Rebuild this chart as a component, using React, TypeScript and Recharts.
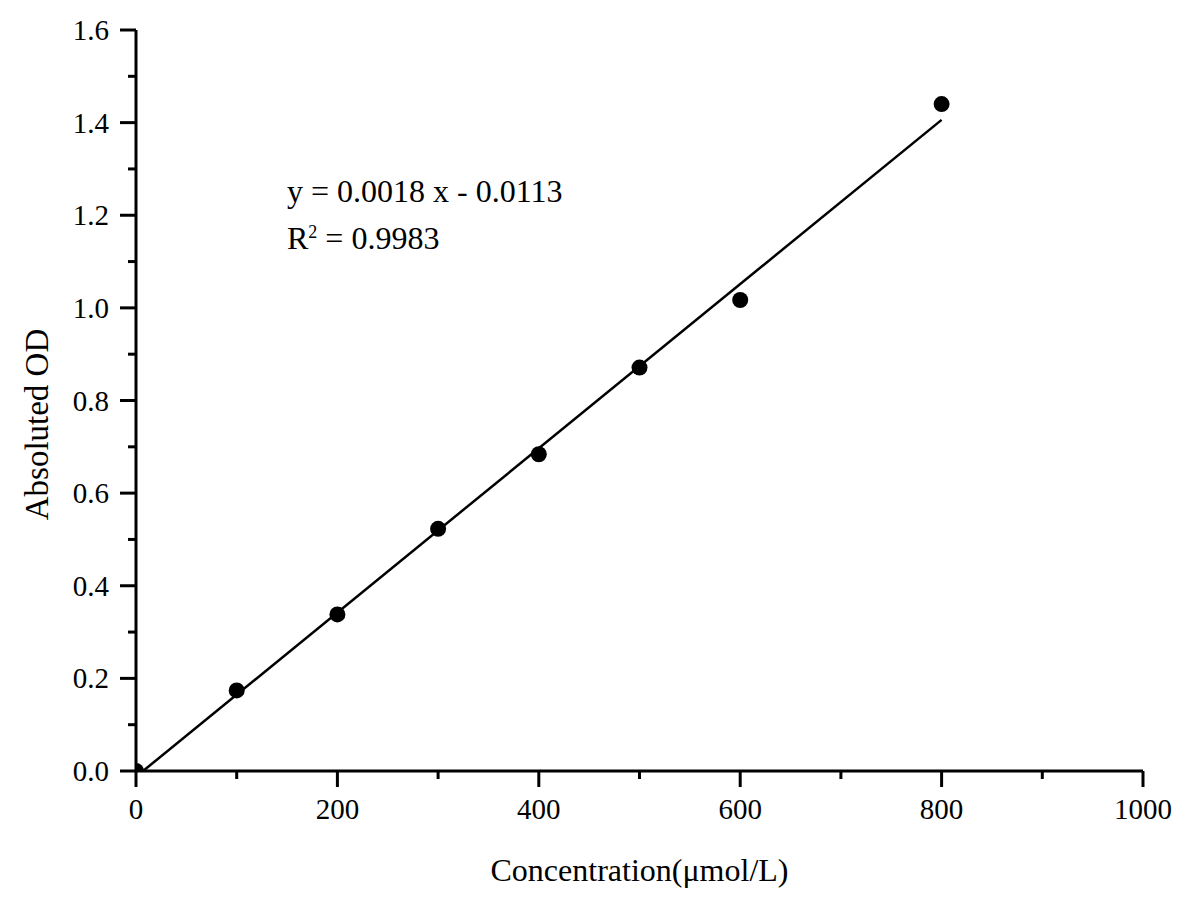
import { ComposedChart, Line, Scatter, XAxis, YAxis } from 'recharts';

// measured points (concentration, OD)
const concentrations = [0, 100, 200, 300, 400, 500, 600, 800];
const odValues = [0, 0.174, 0.338, 0.523, 0.684, 0.871, 1.017, 1.44];

// linear fit as drawn: start and end of the segment
const fitX = [7, 800];
const fitY = [0, 1.406];

const xTicks = [0, 100, 200, 300, 400, 500, 600, 700, 800, 900, 1000];
const yTicks = [0, 0.1, 0.2, 0.3, 0.4, 0.5, 0.6, 0.7, 0.8, 0.9, 1.0, 1.1, 1.2, 1.3, 1.4, 1.5, 1.6];

const points = concentrations.map((x, i) => ({ x, y: odValues[i] }));
const fitLine = fitX.map((x, i) => ({ x, y: fitY[i] }));

const FONT = '"Liberation Serif", "Times New Roman", serif';

function XTick({ x, y, payload }: any) {
  const major = payload.value % 200 === 0;
  return (
    <g>
      <line x1={x} x2={x} y1={y} y2={y + (major ? 16 : 8)} stroke="#000" strokeWidth={3} />
      {major && (
        <text x={x} y={y + 48} textAnchor="middle" fontFamily={FONT} fontSize={29} fill="#000">
          {payload.value}
        </text>
      )}
    </g>
  );
}

function YTick({ x, y, payload }: any) {
  const major = Math.round(payload.value * 10) % 2 === 0;
  return (
    <g>
      <line x1={x - (major ? 16 : 8)} x2={x} y1={y} y2={y} stroke="#000" strokeWidth={3} />
      {major && (
        <text x={x - 27} y={y + 10} textAnchor="end" fontFamily={FONT} fontSize={29} fill="#000">
          {payload.value.toFixed(1)}
        </text>
      )}
    </g>
  );
}

export default function App() {
  return (
    <div style={{ position: 'absolute', left: 0, top: 0, width: 1200, height: 900, background: '#fff' }}>
      <ComposedChart width={1200} height={900} margin={{ top: 30, right: 57, left: 0, bottom: 0 }}>
        <XAxis
          type="number"
          dataKey="x"
          domain={[0, 1000]}
          ticks={xTicks}
          allowDataOverflow
          height={129}
          tickSize={0}
          tickMargin={0}
          tick={<XTick />}
          axisLine={{ stroke: '#000', strokeWidth: 3 }}
          interval={0}
        />
        <YAxis
          type="number"
          dataKey="y"
          domain={[0, 1.6]}
          ticks={yTicks}
          allowDataOverflow
          width={136}
          tickSize={0}
          tickMargin={0}
          tick={<YTick />}
          axisLine={{ stroke: '#000', strokeWidth: 3 }}
          interval={0}
        />
        <Line
          data={fitLine}
          dataKey="y"
          type="linear"
          stroke="#000"
          strokeWidth={2.5}
          dot={false}
          activeDot={false}
          isAnimationActive={false}
        />
        <Scatter data={points} dataKey="y" fill="#000" shape={(p: any) => <circle cx={p.cx} cy={p.cy} r={8} fill="#000" />} isAnimationActive={false} />
      </ComposedChart>
      <div
        style={{
          position: 'absolute',
          left: 0,
          top: 0,
          width: 76,
          height: 900,
          display: 'flex',
          alignItems: 'center',
          justifyContent: 'center',
        }}
      >
        <div
          style={{
            transform: 'rotate(-90deg)',
            whiteSpace: 'nowrap',
            fontFamily: FONT,
            fontSize: 33,
            marginTop: -52,
          }}
        >
          Absoluted OD
        </div>
      </div>
      <div
        style={{
          position: 'absolute',
          left: 136,
          width: 1007,
          top: 850,
          textAlign: 'center',
          fontFamily: FONT,
          fontSize: 32,
          lineHeight: '40px',
        }}
      >
        Concentration(μmol/L)
      </div>
      <div
        style={{
          position: 'absolute',
          left: 287,
          top: 168,
          fontFamily: FONT,
          fontSize: 32,
          lineHeight: '47px',
          whiteSpace: 'nowrap',
        }}
      >
        <div>y = 0.0018 x - 0.0113</div>
        <div>
          R<sup style={{ fontSize: 18, verticalAlign: 'top', position: 'relative', top: -6 }}>2</sup> = 0.9983
        </div>
      </div>
    </div>
  );
}
